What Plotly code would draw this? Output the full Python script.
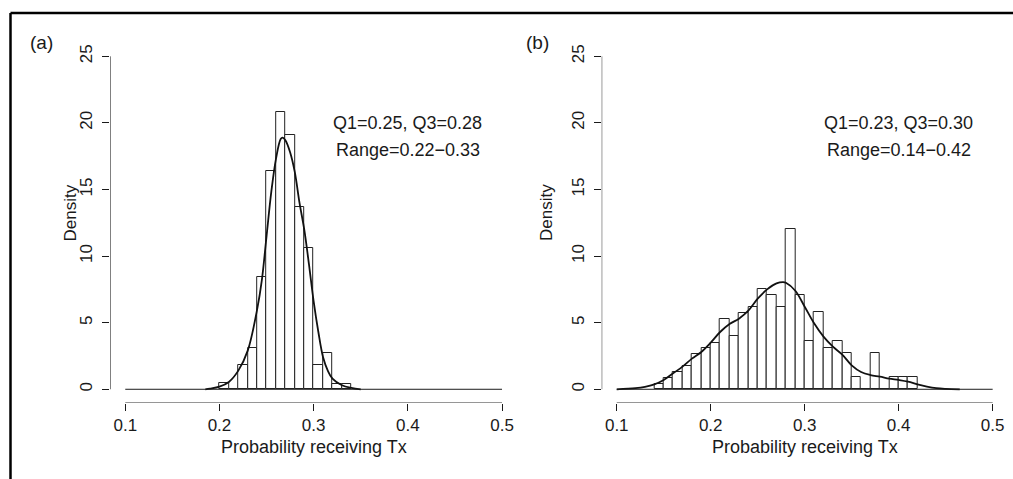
import plotly.graph_objects as go

# ---- data ----
bin_width = 0.01
left_bin_starts = [0.20, 0.21, 0.22, 0.23, 0.24, 0.25, 0.26, 0.27, 0.28, 0.29, 0.30, 0.31, 0.32, 0.33]
left_density = [0.45, 0.0, 1.8, 3.1, 8.4, 16.4, 20.8, 19.1, 13.7, 10.6, 1.8, 2.7, 0.43, 0.43]

right_bin_starts = [0.14, 0.15, 0.16, 0.17, 0.18, 0.19, 0.20, 0.21, 0.22, 0.23, 0.24, 0.25, 0.26, 0.27,
                    0.28, 0.29, 0.30, 0.31, 0.32, 0.33, 0.34, 0.35, 0.36, 0.37, 0.38, 0.39, 0.40, 0.41]
right_density = [0.43, 0.85, 1.3, 1.75, 2.65, 3.1, 3.5, 5.3, 4.0, 5.75, 6.2, 7.5, 7.1, 6.2,
                 12.0, 7.1, 3.6, 5.8, 3.1, 3.6, 2.7, 0.9, 0.0, 2.7, 0.0, 0.9, 0.9, 0.9]

left_curve_x = [0.185, 0.19, 0.20, 0.21, 0.22, 0.23, 0.24, 0.245, 0.25, 0.255, 0.26, 0.265, 0.267,
                0.27, 0.275, 0.28, 0.285, 0.29, 0.295, 0.30, 0.305, 0.31, 0.315, 0.32, 0.33, 0.34, 0.35]
left_curve_y = [0.0, 0.05, 0.2, 0.55, 1.4, 2.9, 6.0, 8.2, 11.5, 14.8, 17.3, 18.8, 18.9,
                18.7, 17.8, 16.3, 14.0, 12.0, 9.4, 6.6, 4.3, 2.4, 1.4, 0.8, 0.3, 0.1, 0.0]

right_curve_x = [0.10, 0.12, 0.13, 0.14, 0.15, 0.16, 0.17, 0.18, 0.19, 0.20, 0.21, 0.22, 0.23, 0.24,
                 0.25, 0.26, 0.27, 0.277, 0.28, 0.29, 0.30, 0.31, 0.32, 0.33, 0.34, 0.35, 0.36, 0.37,
                 0.38, 0.39, 0.40, 0.41, 0.42, 0.43, 0.44, 0.45, 0.465]
right_curve_y = [0.0, 0.08, 0.18, 0.37, 0.7, 1.2, 1.7, 2.3, 2.8, 3.5, 4.3, 4.9, 5.3, 5.9,
                 6.8, 7.5, 7.95, 8.05, 8.0, 7.4, 6.2, 4.95, 3.95, 3.2, 2.6, 1.8, 1.3, 1.07,
                 0.95, 0.8, 0.7, 0.57, 0.37, 0.2, 0.08, 0.03, 0.0]

x_ticks = [0.1, 0.2, 0.3, 0.4, 0.5]
y_ticks = [0, 5, 10, 15, 20, 25]
panel_labels = ["(a)", "(b)"]
stats_lines = [["Q1=0.25, Q3=0.28", "Range=0.22\u22120.33"],
               ["Q1=0.23, Q3=0.30", "Range=0.14\u22120.42"]]
x_title = "Probability receiving Tx"
y_title = "Density"

# ---- layout geometry (pixels) ----
W, H = 1013, 479
FONT = "Liberation Sans, Arial, Helvetica, sans-serif"
TXT = "#1a1a1a"
LINE = "#1a1a1a"
FS = 18
FT = 17
panels = [
    dict(x0=110.2, x1=517.1, label_x=41, title_x=69.5),
    dict(x0=601.7, x1=1007.7, label_x=537, title_x=546),
]
y_top, y_bot = 43.0, 402.6

fig = go.Figure()
layout = dict(width=W, height=H, autosize=False, margin=dict(l=0, r=0, t=0, b=0),
              paper_bgcolor="white", plot_bgcolor="white", showlegend=False,
              font=dict(family=FONT, size=FS, color=TXT))
shapes, annotations = [], []

datasets = [(left_bin_starts, left_density, left_curve_x, left_curve_y),
            (right_bin_starts, right_density, right_curve_x, right_curve_y)]

for i, (p, (starts, dens, cx, cy)) in enumerate(zip(panels, datasets)):
    xa = "x" if i == 0 else "x2"
    ya = "y" if i == 0 else "y2"
    centers = [s + bin_width / 2 for s in starts]
    fig.add_trace(go.Bar(x=centers, y=dens, width=bin_width, xaxis=xa, yaxis=ya,
                         marker=dict(color="white", line=dict(color="#222222", width=1)),
                         hoverinfo="skip"))
    fig.add_trace(go.Scatter(x=cx, y=cy, mode="lines", xaxis=xa, yaxis=ya,
                             line=dict(color="#111111", width=1.8, shape="spline"),
                             hoverinfo="skip"))
    key = "" if i == 0 else "2"
    layout["xaxis" + key] = dict(domain=[p["x0"] / W, p["x1"] / W], range=[0.084, 0.516],
                                 anchor=ya, tickvals=x_ticks, ticktext=[f"{v:.1f}" for v in x_ticks],
                                 ticks="outside", ticklen=7, tickwidth=1, tickcolor=LINE,
                                 showgrid=False, zeroline=False, showline=False,
                                 tickfont=dict(size=FT, color=TXT), fixedrange=True)
    layout["yaxis" + key] = dict(domain=[1 - y_bot / H, 1 - y_top / H], range=[-1, 26],
                                 anchor=xa, tickvals=y_ticks, ticktext=[str(v) for v in y_ticks],
                                 ticks="outside", ticklen=7, tickwidth=1, tickcolor=LINE,
                                 tickangle=-90, ticklabelstandoff=3,
                                 showgrid=False, zeroline=False, showline=False,
                                 tickfont=dict(size=FT, color=TXT), fixedrange=True)
    # R-style axis lines spanning only the tick range
    shapes.append(dict(type="line", xref=xa, yref=ya, x0=x_ticks[0], x1=x_ticks[-1], y0=-1, y1=-1,
                       line=dict(color=LINE, width=1)))
    shapes.append(dict(type="line", xref=xa, yref=ya, x0=0.084, x1=0.084, y0=y_ticks[0], y1=y_ticks[-1],
                       line=dict(color=LINE, width=1)))
    # baseline at density 0
    shapes.append(dict(type="line", xref=xa, yref=ya, x0=x_ticks[0], x1=x_ticks[-1], y0=0, y1=0,
                       line=dict(color=LINE, width=1)))
    # stats text
    for j, t in enumerate(stats_lines[i]):
        annotations.append(dict(xref=xa, yref=ya, x=0.4, y=20 - 2 * j, text=t, showarrow=False,
                                xanchor="center", yanchor="middle", font=dict(size=FS, color=TXT)))
    # axis titles
    annotations.append(dict(xref=xa, yref="paper", x=0.3, y=1 - 447 / H, text=x_title, showarrow=False,
                            xanchor="center", yanchor="middle", font=dict(size=FS, color=TXT)))
    annotations.append(dict(xref="paper", yref="paper", x=p["title_x"] / W, y=1 - 213 / H, text=y_title,
                            showarrow=False, textangle=-90, xanchor="center", yanchor="middle",
                            font=dict(size=FT, color=TXT)))
    annotations.append(dict(xref="paper", yref="paper", x=p["label_x"] / W, y=1 - 43 / H,
                            text=panel_labels[i], showarrow=False, xanchor="center", yanchor="middle",
                            font=dict(size=19, color=TXT)))

# outer frame (top and left edges visible)
shapes.append(dict(type="line", xref="paper", yref="paper", x0=10.5 / W, x1=1.0, y0=1 - 13 / H, y1=1 - 13 / H,
                   line=dict(color="black", width=2.5)))
shapes.append(dict(type="line", xref="paper", yref="paper", x0=10.5 / W, x1=10.5 / W, y0=1 - 13 / H, y1=0,
                   line=dict(color="black", width=2.5)))

layout["shapes"] = shapes
layout["annotations"] = annotations
layout["bargap"] = 0
fig.update_layout(**layout)
fig.write_html("out.html", config={"displayModeBar": False})
